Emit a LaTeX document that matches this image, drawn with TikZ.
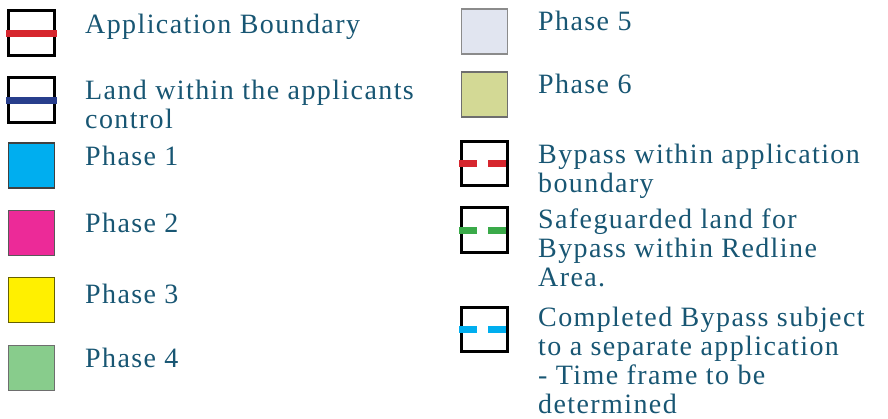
\documentclass[tikz,border=0pt]{standalone}
\usepackage{fontspec}
\setmainfont{Liberation Serif}[LetterSpace=5]
\usepackage{xcolor}
\usepackage{tikz}
\usetikzlibrary{positioning}
\definecolor{LGText}{RGB}{24, 86, 115}
\definecolor{LGRed}{RGB}{214, 38, 46}
\definecolor{LGBlue}{RGB}{40, 62, 140}
\definecolor{LGGreen}{RGB}{58, 170, 73}
\definecolor{LGCyan}{RGB}{0, 174, 239}
\definecolor{LGPink}{RGB}{236, 42, 152}
\definecolor{LGYellow}{RGB}{255, 240, 0}
\definecolor{LGSage}{RGB}{136, 204, 140}
\definecolor{LGLavender}{RGB}{225, 229, 240}
\definecolor{LGOlive}{RGB}{211, 217, 149}
\definecolor{LGEdge}{RGB}{110, 110, 110}

\begin{document}
\begin{tikzpicture}[x=1pt,y=-1pt,
  box/.style={draw=black, line width=2.6pt, minimum width=45.5pt, minimum height=44.5pt, inner sep=0pt},
  phasebox/.style={draw=LGEdge, line width=1.8pt, minimum width=46pt, minimum height=45pt, inner sep=0pt},
  legtext/.style={anchor=base west, align=left, inner sep=0pt, text=LGText, font=\fontsize{28}{28.8}\selectfont},
  solidline/.style={line width=7pt, shorten <=-1.3pt, shorten >=-1.3pt},
  dashline/.style={line width=7pt, dash pattern=on 18pt off 11pt, shorten <=-1.3pt, shorten >=-1.3pt}]
  \path[use as bounding box] (0,0) rectangle (888,418);
  \fill[white] (0,0) rectangle (888,418);

  % left column (multi-line texts sit on their last baseline)
  \node[box] (bndsw) at (31.5,33) {};
  \draw[solidline, LGRed] (bndsw.west) -- (bndsw.east);
  \node[legtext] (bndtx) at (85,33) {Application Boundary};

  \node[box] (ctlsw) at (31.5,100) {};
  \draw[solidline, LGBlue] (ctlsw.west) -- (ctlsw.east);
  \node[legtext] (ctltx) at (85,128) {Land within the applicants\\control};

  \node[phasebox, fill=LGCyan, draw=black!75] (ph1sw) at (31.5,165.5) {};
  \node[legtext] (ph1tx) at (85,165) {Phase 1};

  \node[phasebox, fill=LGPink, draw=black!65] (ph2sw) at (31.5,233) {};
  \node[legtext] (ph2tx) at (85,232) {Phase 2};

  \node[phasebox, fill=LGYellow, draw=black!60!LGYellow] (ph3sw) at (31.5,300) {};
  \node[legtext] (ph3tx) at (85,303) {Phase 3};

  \node[phasebox, fill=LGSage] (ph4sw) at (31.5,368) {};
  \node[legtext] (ph4tx) at (85,367) {Phase 4};

  % right column
  \node[phasebox, fill=LGLavender, draw=LGEdge!80] (ph5sw) at (484.5,31.5) {};
  \node[legtext] (ph5tx) at (538,30) {Phase 5};

  \node[phasebox, fill=LGOlive] (ph6sw) at (484.5,94.5) {};
  \node[legtext] (ph6tx) at (538,93) {Phase 6};

  \node[box] (bypsw) at (484.5,163.5) {};
  \draw[dashline, LGRed] (bypsw.west) -- (bypsw.east);
  \node[legtext] (byptx) at (538,192) {Bypass within application\\boundary};

  \node[box] (sfgsw) at (484.5,230) {};
  \draw[dashline, LGGreen] (sfgsw.west) -- (sfgsw.east);
  \node[legtext] (sfgtx) at (538,286) {Safeguarded land for\\Bypass within Redline\\Area.};

  \node[box] (cmpsw) at (484.5,329.5) {};
  \draw[dashline, LGCyan] (cmpsw.west) -- (cmpsw.east);
  \node[legtext] (cmptx) at (538,413) {Completed Bypass subject\\to a separate application\\- Time frame to be\\determined};
\end{tikzpicture}
\end{document}
